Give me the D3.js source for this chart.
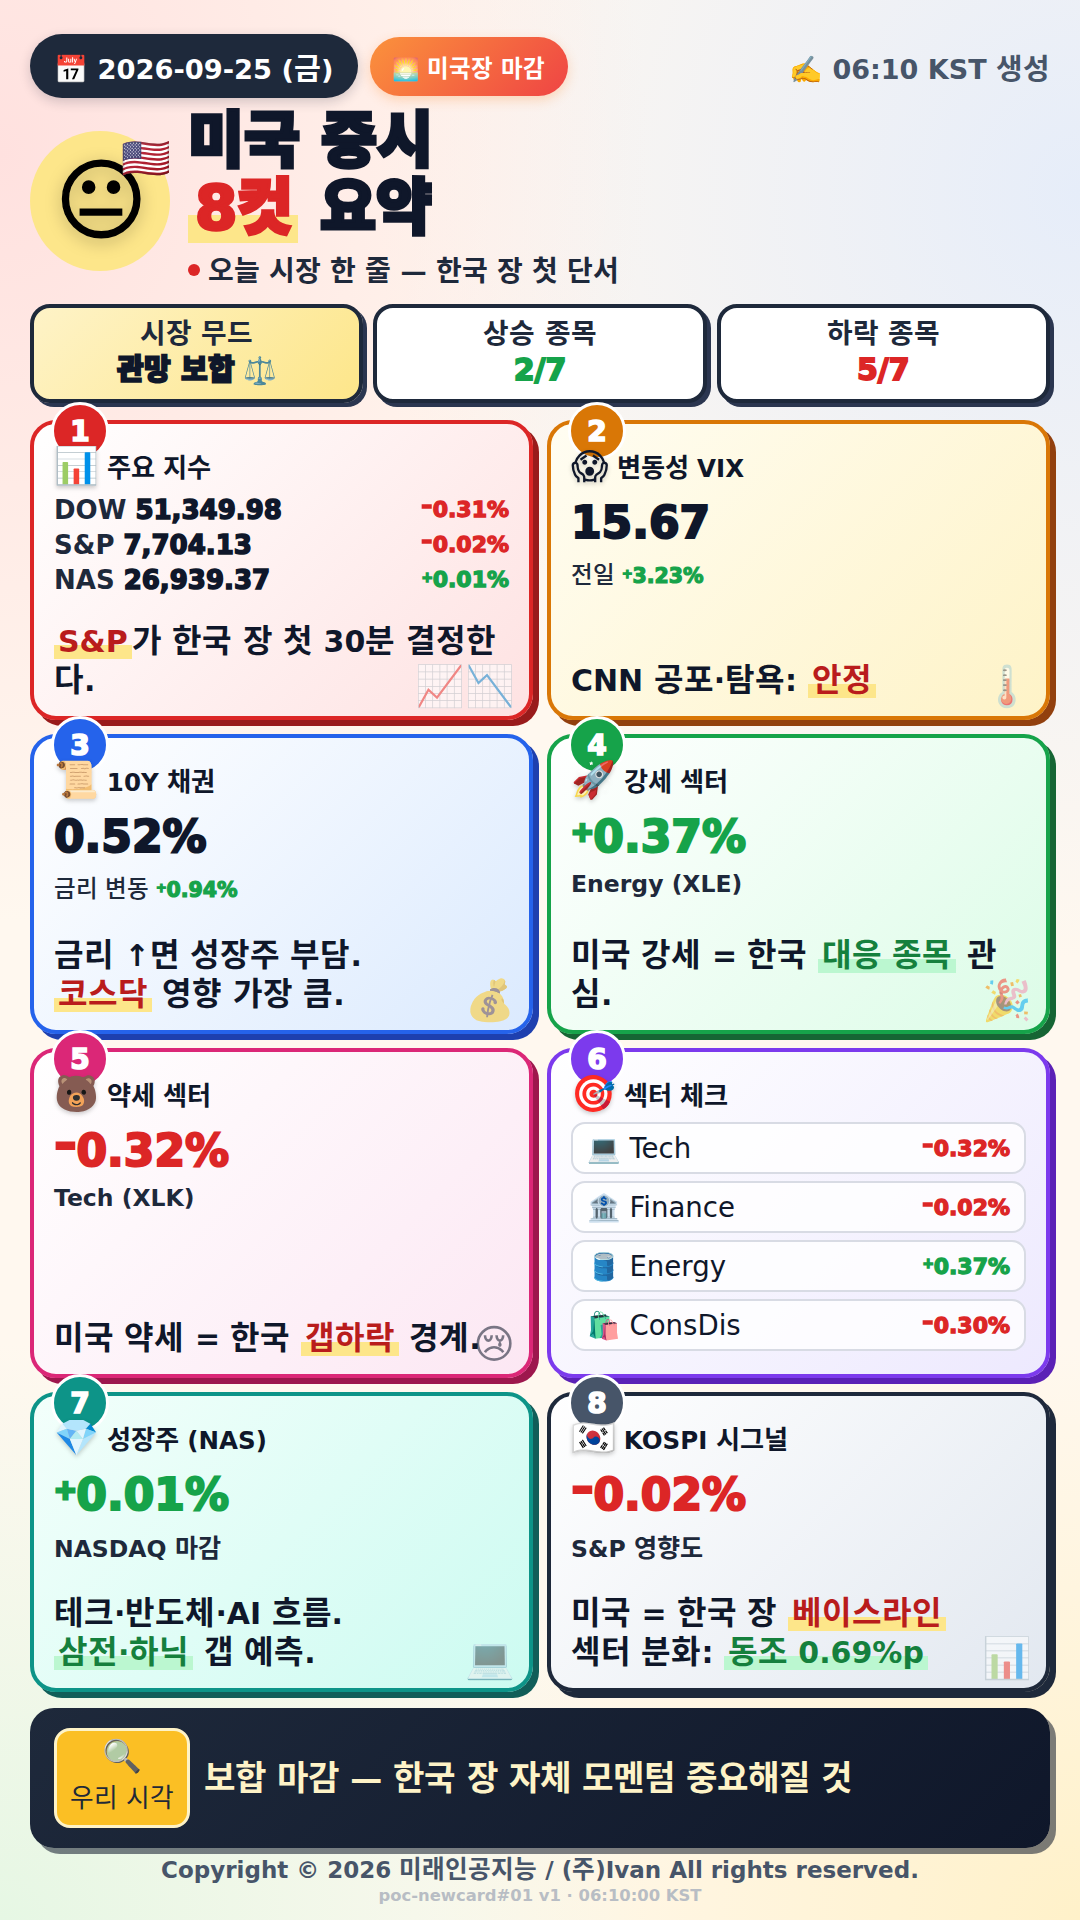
<!DOCTYPE html>
<html><head><meta charset="utf-8">
<script src="https://cdn.jsdelivr.net/npm/d3@7/dist/d3.min.js"></script>
<style>
@font-face{font-family:HG;font-weight:400;size-adjust:107%;src:local("Noto Sans CJK KR Regular"),local("NotoSansCJKkr-Regular"),local("Noto Sans CJK KR");unicode-range:U+1100-11FF,U+3130-318F,U+AC00-D7A3}
@font-face{font-family:HG;font-weight:500;size-adjust:107%;src:local("Noto Sans CJK KR Medium"),local("NotoSansCJKkr-Medium"),local("Noto Sans CJK KR");unicode-range:U+1100-11FF,U+3130-318F,U+AC00-D7A3}
@font-face{font-family:HG;font-weight:700;size-adjust:107%;src:local("Noto Sans CJK KR Bold"),local("NotoSansCJKkr-Bold"),local("Noto Sans CJK KR");unicode-range:U+1100-11FF,U+3130-318F,U+AC00-D7A3}
@font-face{font-family:HB;font-weight:900;src:local("Noto Sans CJK KR Black"),local("NotoSansCJKkr-Black"),local("Noto Sans CJK KR Bold");unicode-range:U+1100-11FF,U+3130-318F,U+AC00-D7A3}
*{box-sizing:border-box;margin:0;padding:0}
html,body{width:1080px;height:1920px;overflow:hidden}
body{font-family:HG,"DejaVu Sans","Noto Sans CJK KR","Noto Color Emoji",sans-serif;color:#0f172a;position:relative;
background:radial-gradient(ellipse 60% 40% at 0% 8%,#ffe1df 0%,rgba(255,225,223,0) 100%),radial-gradient(ellipse 65% 40% at 100% 10%,#e6edf9 0%,rgba(230,237,249,0) 100%),radial-gradient(ellipse 60% 30% at 0% 100%,#e6f7e4 0%,rgba(230,247,228,0) 100%),radial-gradient(ellipse 60% 30% at 100% 100%,#fff1c9 0%,rgba(255,241,201,0) 100%),#fff8ef}
.abs{position:absolute}
.heavy{font-family:HB,"DejaVu Sans","Noto Sans CJK KR","Noto Color Emoji",sans-serif;font-weight:900;-webkit-text-stroke:.06em currentColor}
.sg{display:inline-block;vertical-align:baseline;position:relative}
.sg.plus{font-size:.62em;top:-.4em;width:.82em;-webkit-text-stroke:.11em currentColor}
.sg.minus{top:-.17em;width:.51em;transform:scaleX(1.25);transform-origin:0 50%}
.hl{padding:0 4px;background:linear-gradient(transparent 60%,#fde68a 60%);color:#b91c1c}
.hl.g{background:linear-gradient(transparent 60%,#bbf7d0 60%);color:#15803d}
.up{color:#16a34a}.down{color:#dc2626}
.pill{display:flex;align-items:center;white-space:nowrap;font-weight:700}
.stat{width:333.33px;height:99px;top:304px;border:4px solid #1e293b;border-radius:20px;box-shadow:4px 4px 0 #2b3650;background:#fff;text-align:center;padding-top:9px}
.stat .l{font-size:26px;font-weight:700;line-height:35px;color:#1e293b}
.stat .v{font-size:29px;line-height:36px}
.stat .v.n{font-size:30px}
.stat .v .e{-webkit-text-stroke:0;font-weight:400;font-size:27px}
.card{width:503px;border:4px solid;border-radius:26px;padding:22px 20px 0;display:flex;flex-direction:column}
.badge{position:absolute;left:17px;top:-22px;width:58px;height:58px;border-radius:50%;border:3px solid #fff;color:#fff;display:flex;align-items:center;justify-content:center;font-size:28px;z-index:1}
.thead{display:flex;align-items:center;gap:8px;font-size:24.5px;font-weight:700;height:40px;position:relative;z-index:2}
.thead .e{font-size:36px;filter:drop-shadow(0 2px 2px rgba(0,0,0,.2));font-weight:400}
.idx{display:flex;justify-content:space-between;align-items:center;font-size:26px;font-weight:700;color:#1e293b;height:35px}
.idx .p{font-size:22px}.idx b{color:#0f172a}
.big{font-size:44px;line-height:56px;height:56px;margin-top:9px;-webkit-text-stroke:.05em currentColor}
.sub{font-size:23.5px;font-weight:700;color:#1e293b;margin-top:5px}
.sub.k{font-size:22px;font-weight:500}
.sub b{font-size:20.5px}
.msg{position:absolute;left:20px;right:20px;bottom:16px;font-size:30px;font-weight:700;line-height:39px;color:#0f172a}
.deco{position:absolute;right:14px;bottom:2px;font-size:40px;opacity:.55;line-height:56px;white-space:nowrap;font-weight:400}
.chip{display:flex;justify-content:space-between;align-items:center;height:52px;border:2px solid #d8dbe4;border-radius:14px;background:rgba(255,255,255,.8);padding:0 14px;margin-bottom:7px;font-size:27.6px}
.chip .i{font-size:27px}
.chip b{font-size:22px}
</style></head><body><script>
const dateLabel='2026-09-25 (금)', sessionLabel='미국장 마감', generatedLabel='06:10 KST 생성';
const titleLine1='미국 증시', titleAccent='8컷', titleLine2='요약', tagline='오늘 시장 한 줄 — 한국 장 첫 단서';
const statLabels=['시장 무드','상승 종목','하락 종목'];
const statValues=['관망 보합','2/7','5/7'];
const moodIcon='⚖️';
const indexNames=['DOW','S&P','NAS'];
const indexLevels=['51,349.98','7,704.13','26,939.37'];
const indexChanges=[-0.31,-0.02,0.01];
const vixLevel='15.67', vixChange=3.23, bondYield='0.52%', bondChange=0.94;
const strongChange=0.37, weakChange=-0.32, growthChange=0.01, kospiChange=-0.02;
const sectorIcons=['💻','🏦','🛢️','🛍️'];
const sectorNames=['Tech','Finance','Energy','ConsDis'];
const sectorChanges=[-0.32,-0.02,0.37,-0.30];
const cardColors=['#dc2626','#d97706','#2563eb','#16a34a','#db2777','#7c3aed','#0d9488','#1e293b'];
const cardShadows=['#991b1b','#92400e','#1e40af','#166534','#9d174d','#5b21b6','#115e59','#1e293b'];
const cardFills=[['#ffffff','#fee2e2'],['#fffdf2','#fef3c7'],['#ffffff','#dbeafe'],['#ffffff','#dcfce7'],['#ffffff','#fce7f3'],['#ffffff','#ede9fe'],['#f3fffb','#ccfbf1'],['#ffffff','#e2e8f0']];
const cardIcons=['📊','😱','📜','🚀','🐻','🎯','💎','🇰🇷'];
const cardTitles=['주요 지수','변동성 VIX','10Y 채권','강세 섹터','약세 섹터','섹터 체크','성장주 (NAS)','KOSPI 시그널'];
const cardDecos=['📈📉','🌡️','💰','🎉','😢','','💻','📊'];
const cardTops=[420,420,734,734,1048,1048,1392,1392];
const cardHeights=[300,300,300,300,330,330,300,300];
const viewLabel='우리 시각', viewText='보합 마감 — 한국 장 자체 모멘텀 중요해질 것';
const copyright='Copyright © 2026 미래인공지능 / (주)Ivan All rights reserved.', buildLine='poc-newcard#01 v1 · 06:10:00 KST';
const messages=[
 [['S&P','y'],['가 한국 장 첫 30분 결정한다.']],
 [['CNN 공포·탐욕: '],['안정','y']],
 [['금리 ↑면 성장주 부담.'],['\n'],['코스닥','y'],[' 영향 가장 큼.']],
 [['미국 강세 = 한국 '],['대응 종목','g'],[' 관심.']],
 [['미국 약세 = 한국 '],['갭하락','y'],[' 경계.']],
 [],
 [['테크·반도체·AI 흐름.'],['\n'],['삼전·하닉','g'],[' 갭 예측.']],
 [['미국 = 한국 장 '],['베이스라인','y'],['\n'],['섹터 분화: '],['동조 0.69%p','g']]
];
const fmt=d3.formatLocale({decimal:'.',thousands:',',grouping:[3],currency:['',''],minus:'-'}).format('+.2f');
const dir=v=>v>=0?'up':'down';
// writes a signed percentage; the sign glyph sits in its own span because it is smaller and raised
const putPct=(sel,v)=>{const s=fmt(v)+'%';sel.append('span').attr('class','sg '+(v>=0?'plus':'minus')).text(s[0]);sel.append('span').text(s.slice(1));};
const body=d3.select('body');
const box=(cls,l,t,w,h)=>{const s=body.append('div').attr('class','abs '+cls).style('left',l+'px').style('top',t+'px');if(w)s.style('width',w+'px');if(h)s.style('height',h+'px');return s;};
// header
box('pill',30,34,328,64).style('border-radius','32px').style('background','#1e293b').style('color','#fff').style('font-size','27.3px').style('padding','0 24px').style('box-shadow','0 4px 12px rgba(15,23,42,.18)').text('📅 '+dateLabel);
box('pill',370,37,198,59).style('border-radius','30px').style('background','linear-gradient(135deg,#fb923c,#ef4444)').style('color','#fff').style('font-size','22px').style('padding','0 22px').style('box-shadow','0 4px 12px rgba(251,146,60,.3)').text('🌅 '+sessionLabel);
body.append('div').attr('class','abs pill').style('right','30px').style('top','46px').style('height','40px').style('color','#475569').style('font-size','27px').text('✍️ '+generatedLabel);
// hero
box('',30,131,140,140).style('border-radius','50%').style('background','#fde68a');
box('',31,131,140,140).style('display','flex').style('align-items','center').style('justify-content','center').append('span').style('font-size','88px').style('line-height','140px').style('color','#000').style('-webkit-text-stroke','1.5px #000').style('filter','drop-shadow(0 4px 8px rgba(0,0,0,.25))').text('😐');
box('',121,128,60,60).style('font-size','40px').style('line-height','60px').text('🇺🇸');
const title=box('heavy',188,107,400,0).style('font-size','61px').style('line-height','67px').style('white-space','nowrap').style('-webkit-text-stroke','.055em currentColor');
title.append('div').text(titleLine1);
const t2=title.append('div');
t2.append('span').attr('class','hl').style('color','#dc2626').style('padding','0 5px 0 7px').text(titleAccent);
t2.append('span').text(' '+titleLine2);
box('',188,264,12,12).style('border-radius','50%').style('background','#dc2626');
box('',208,252,600,40).style('font-size','26.2px').style('font-weight','700').style('line-height','40px').style('color','#1e293b').text(tagline);
// stats
statLabels.forEach((l,i)=>{
 const s=box('stat',30+i*343.33,304);
 if(i===0)s.style('background','linear-gradient(135deg,#fef3c7,#fde68a)');
 s.append('div').attr('class','l').text(l);
 const v=s.append('div').attr('class','v heavy'+(i===1?' up n':i===2?' down n':'')).text(statValues[i]);
 if(i===0)v.append('span').attr('class','e').text(' '+moodIcon);
});
// cards
const cards=body.selectAll('.card').data(cardTitles).join('div').attr('class','abs card')
 .style('left',(d,i)=>(i%2?547:30)+'px').style('top',(d,i)=>cardTops[i]+'px').style('height',(d,i)=>cardHeights[i]+'px')
 .style('border-color',(d,i)=>cardColors[i]).style('box-shadow',(d,i)=>`6px 6px 0 ${cardShadows[i]}`)
 .style('background',(d,i)=>`linear-gradient(135deg,${cardFills[i][0]},${cardFills[i][1]})`);
cards.append('div').attr('class','badge heavy').style('background',(d,i)=>i===7?'#475569':cardColors[i]).text((d,i)=>i+1);
const heads=cards.append('div').attr('class','thead');
heads.append('span').attr('class','e').text((d,i)=>cardIcons[i]);
heads.append('span').text(d=>d);
cards.append('div').attr('class','msg').each(function(d,i){
 const el=d3.select(this);
 messages[i].forEach(r=>{
  if(r[0]==='\n'){el.append('br');return;}
  const sp=el.append('span').text(r[0]);
  if(r[1])sp.attr('class','hl'+(r[1]==='g'?' g':''));
 });
});
cards.append('div').attr('class','deco').text((d,i)=>cardDecos[i]);
const card=i=>d3.select(cards.nodes()[i]);
const rows=card(0).insert('div','.msg').style('margin-top','6px');
const idx=rows.selectAll('.idx').data(indexNames).join('div').attr('class','idx');
idx.append('span').html((d,i)=>`${d} <b class="heavy">${indexLevels[i]}</b>`);
idx.append('span').attr('class',(d,i)=>'p heavy '+dir(indexChanges[i])).each(function(d,i){putPct(d3.select(this),indexChanges[i]);});
const bigs=[[1,vixLevel],[2,bondYield],[3,strongChange],[4,weakChange],[6,growthChange],[7,kospiChange]];
const subs={1:['전일 ',vixChange],2:['금리 변동 ',bondChange],3:['Energy (XLE)'],4:['Tech (XLK)'],6:['NASDAQ 마감'],7:['S&P 영향도']};
bigs.forEach(([i,t])=>{
 const b=card(i).insert('div','.msg').attr('class','big heavy');
 if(typeof t==='number'){b.classed(dir(t),true);putPct(b,t);}else b.text(t);
 const s=card(i).insert('div','.msg').attr('class','sub'+(subs[i][1]!==undefined?' k':'')).text(subs[i][0]);
 if(subs[i][1]!==undefined)s.append('b').attr('class','heavy up').call(putPct,subs[i][1]);
});
const chips=card(5).insert('div','.msg').style('margin-top','8px').selectAll('.chip').data(sectorNames).join('div').attr('class','chip');
const cl=chips.append('span');
cl.append('span').attr('class','i').text((d,i)=>sectorIcons[i]);
cl.append('span').text(d=>' '+d);
chips.append('b').attr('class',(d,i)=>'heavy '+dir(sectorChanges[i])).each(function(d,i){putPct(d3.select(this),sectorChanges[i]);});
// bottom bar
box('',30,1708,1020,140).style('border-radius',"24px").style('background','linear-gradient(135deg,#1e293b,#0f172a)').style('box-shadow','6px 6px 0 rgba(15,23,42,.55)');
const tag=box('',54,1728,136,100).style('border-radius','16px').style('background','#fbbf24').style('border','3px solid #fef3c7').style('text-align','center').style('color','#1f2937').style('padding-top','2px');
tag.append('div').style('font-size','32px').style('line-height','46px').text('🔍');
tag.append('div').style('font-size','24px').style('line-height','40px').text(viewLabel);
box('',204,1759,830,40).style('font-size','32px').style('font-weight','700').style('line-height','40px').style('color','#fef3c7').text(viewText);
body.append('div').attr('class','abs').style('left',0).style('width','1080px').style('top','1849px').style('text-align','center').style('font-size','23px').style('font-weight','700').style('color','#475569').text(copyright);
body.append('div').attr('class','abs').style('left',0).style('width','1080px').style('top','1886px').style('text-align','center').style('font-size','16.4px').style('font-weight','700').style('color','#b8bdc4').text(buildLine);
</script></body></html>
